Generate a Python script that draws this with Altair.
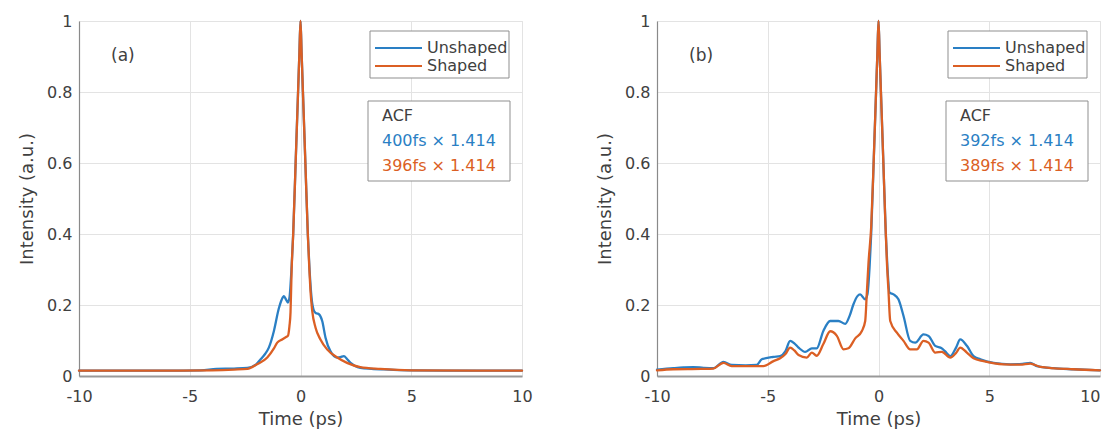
import altair as alt
import pandas as pd

FONT = "DejaVu Sans"
BLUE = "#2a7fc4"
ORANGE = "#db5f24"
TXT = "#404040"

# ---------------- Panel (a) ----------------
a_unshaped_t = [-10, -8, -6, -4.5, -3.8, -3.0, -2.4, -2.0, -1.8, -1.6, -1.43, -1.2, -0.98, -0.85,
                -0.75, -0.65, -0.57, -0.5, -0.4, -0.33, -0.22, -0.11, -0.05, 0, 0.05, 0.11, 0.22,
                0.33, 0.4, 0.5, 0.6, 0.68, 0.75, 0.83, 0.98, 1.13, 1.35, 1.66, 1.8, 1.96, 2.1,
                2.26, 2.7, 3.2, 4.0, 5, 7, 10]
a_unshaped_i = [0.015, 0.015, 0.015, 0.016, 0.02, 0.021, 0.023, 0.033, 0.047, 0.062, 0.08, 0.127,
                0.19, 0.215, 0.225, 0.215, 0.207, 0.22, 0.31, 0.4, 0.6, 0.8, 0.91, 1.0, 0.91, 0.8,
                0.6, 0.4, 0.31, 0.22, 0.185, 0.178, 0.176, 0.174, 0.155, 0.108, 0.07, 0.052, 0.053,
                0.056, 0.048, 0.037, 0.023, 0.02, 0.018, 0.016, 0.015, 0.015]
a_shaped_t = [-10, -6, -4, -3, -2.4, -1.96, -1.5, -1.2, -1.05, -0.83, -0.65, -0.57, -0.5, -0.45,
              -0.4, -0.33, -0.22, -0.11, -0.05, 0, 0.05, 0.11, 0.22, 0.33, 0.4, 0.45, 0.53, 0.68,
              0.9, 1.2, 1.66, 2.1, 2.7, 3.6, 5, 10]
a_shaped_i = [0.015, 0.015, 0.016, 0.018, 0.02, 0.033, 0.052, 0.078, 0.094, 0.103, 0.11, 0.113,
              0.14, 0.18, 0.3, 0.4, 0.6, 0.8, 0.91, 1.0, 0.91, 0.8, 0.6, 0.4, 0.3, 0.24, 0.183,
              0.136, 0.103, 0.075, 0.052, 0.037, 0.025, 0.02, 0.016, 0.015]

# ---------------- Panel (b) ----------------
b_unshaped_t = [-10, -9.26, -8.8, -8.36, -7.9, -7.46, -7.0, -6.63, -6.0, -5.5, -5.27, -4.74, -4.44,
                -4.2, -3.99, -3.8, -3.61, -3.31, -3.01, -2.79, -2.49, -2.18, -1.81, -1.5, -1.3,
                -1.13, -0.95, -0.83, -0.6, -0.5, -0.4, -0.33, -0.22, -0.11, -0.05, 0, 0.05, 0.11,
                0.22, 0.33, 0.4, 0.5, 0.68, 0.9, 1.13, 1.43, 1.66, 2.03, 2.26, 2.56, 2.86, 3.0,
                3.24, 3.5, 3.69, 3.99, 4.29, 4.6, 5.2, 5.95, 6.5, 6.85, 7.15, 7.9, 8.8, 10]
b_unshaped_i = [0.018, 0.022, 0.024, 0.025, 0.023, 0.022, 0.04, 0.031, 0.03, 0.031, 0.047, 0.054,
                0.056, 0.07, 0.099, 0.092, 0.08, 0.068, 0.078, 0.078, 0.127, 0.155, 0.155, 0.147,
                0.17, 0.202, 0.225, 0.23, 0.216, 0.23, 0.31, 0.4, 0.6, 0.8, 0.91, 1.0, 0.91, 0.8,
                0.6, 0.4, 0.31, 0.235, 0.23, 0.216, 0.169, 0.099, 0.094, 0.117, 0.113, 0.085,
                0.078, 0.07, 0.056, 0.08, 0.103, 0.085, 0.056, 0.047, 0.037, 0.033, 0.034, 0.037,
                0.028, 0.022, 0.019, 0.016]
b_shaped_t = [-10, -9.26, -8, -7.46, -7.0, -6.63, -6.0, -5.2, -4.74, -4.44, -4.2, -3.99, -3.8,
              -3.61, -3.24, -3.01, -2.79, -2.49, -2.18, -1.88, -1.58, -1.36, -1.05, -0.75, -0.6,
              -0.53, -0.45, -0.33, -0.22, -0.11, -0.05, 0, 0.05, 0.11, 0.22, 0.3, 0.38, 0.45,
              0.53, 0.83, 1.13, 1.43, 1.73, 2.03, 2.26, 2.56, 2.86, 3.24, 3.5, 3.69, 3.99, 4.29,
              4.74, 5.65, 6.4, 6.85, 7.3, 8.8, 10]
b_shaped_i = [0.016, 0.019, 0.02, 0.021, 0.037, 0.028, 0.028, 0.028, 0.042, 0.05, 0.062, 0.08,
              0.072, 0.059, 0.052, 0.066, 0.057, 0.09, 0.126, 0.113, 0.075, 0.078, 0.106, 0.127,
              0.155, 0.23, 0.32, 0.42, 0.6, 0.8, 0.91, 1.0, 0.91, 0.8, 0.6, 0.45, 0.32, 0.24,
              0.155, 0.122, 0.099, 0.075, 0.075, 0.099, 0.094, 0.066, 0.068, 0.052, 0.065, 0.08,
              0.066, 0.05, 0.042, 0.033, 0.032, 0.035, 0.026, 0.019, 0.016]

series_names = ["Unshaped", "Shaped"]
series_colors = [BLUE, ORANGE]
x_ticks = [-10, -5, 0, 5, 10]
y_ticks = [0, 0.2, 0.4, 0.6, 0.8, 1]

W, H = 443, 355


def frame(t_u, i_u, t_s, i_s):
    d1 = pd.DataFrame({"t": t_u, "I": i_u, "series": "Unshaped", "ord": range(len(t_u))})
    d2 = pd.DataFrame({"t": t_s, "I": i_s, "series": "Shaped", "ord": range(len(t_s))})
    return pd.concat([d1, d2], ignore_index=True)


def panel(df, tag, acf_u, acf_s, last_label_right=False):
    x_axis_kw = dict(title="Time (ps)", values=x_ticks, labelExpr="'' + datum.value",
                     labelFlush=False, labelPadding=12, titlePadding=6,
                     domainWidth=2, domainColor="#999999", grid=True)
    if last_label_right:
        x_axis_kw["labelAlign"] = alt.condition("datum.value == 10", alt.value("right"),
                                                alt.value("center"))
    lines = alt.Chart(df).mark_line(strokeWidth=2.3, strokeJoin="round", strokeCap="round",
                                    interpolate="monotone").encode(
        x=alt.X("t:Q", scale=alt.Scale(domain=[-10, 10], nice=False),
                axis=alt.Axis(**x_axis_kw)),
        y=alt.Y("I:Q", scale=alt.Scale(domain=[0, 1], nice=False),
                axis=alt.Axis(title="Intensity (a.u.)", values=y_ticks, format=".1~f",
                              labelPadding=7, titlePadding=10, domainWidth=1.2, grid=True)),
        color=alt.Color("series:N", scale=alt.Scale(domain=series_names, range=series_colors),
                        legend=None),
        detail="series:N",
        order="ord:Q",
    )
    dummy = pd.DataFrame({"k": [0]})
    base = alt.Chart(dummy)
    box1 = base.mark_rect(fill="white", stroke="#8f8f8f", strokeWidth=1).encode(
        x=alt.value(291), x2=alt.value(430), y=alt.value(10), y2=alt.value(57))
    l1 = base.mark_rule(color=BLUE, strokeWidth=2).encode(
        x=alt.value(296), x2=alt.value(343), y=alt.value(27))
    l2 = base.mark_rule(color=ORANGE, strokeWidth=2).encode(
        x=alt.value(296), x2=alt.value(343), y=alt.value(45))
    t1 = base.mark_text(align="left", baseline="middle", font=FONT, fontSize=16, color=TXT).encode(
        x=alt.value(348), y=alt.value(27), text=alt.value("Unshaped"))
    t2 = base.mark_text(align="left", baseline="middle", font=FONT, fontSize=16, color=TXT).encode(
        x=alt.value(348), y=alt.value(45), text=alt.value("Shaped"))
    box2 = base.mark_rect(fill="white", stroke="#8f8f8f", strokeWidth=1).encode(
        x=alt.value(289), x2=alt.value(431), y=alt.value(80), y2=alt.value(160))
    a1 = base.mark_text(align="left", baseline="middle", font=FONT, fontSize=16, color=TXT).encode(
        x=alt.value(303), y=alt.value(95), text=alt.value("ACF"))
    a2 = base.mark_text(align="left", baseline="middle", font=FONT, fontSize=16, color=BLUE).encode(
        x=alt.value(303), y=alt.value(120), text=alt.value(acf_u))
    a3 = base.mark_text(align="left", baseline="middle", font=FONT, fontSize=16, color=ORANGE).encode(
        x=alt.value(303), y=alt.value(145), text=alt.value(acf_s))
    lab = base.mark_text(align="left", baseline="middle", font=FONT, fontSize=17, color=TXT).encode(
        x=alt.value(32), y=alt.value(35), text=alt.value(tag))
    return alt.layer(lines, box1, l1, l2, t1, t2, box2, a1, a2, a3, lab).properties(width=W, height=H)


left = panel(frame(a_unshaped_t, a_unshaped_i, a_shaped_t, a_shaped_i), "(a)",
             "400fs × 1.414", "396fs × 1.414")
right = panel(frame(b_unshaped_t, b_unshaped_i, b_shaped_t, b_shaped_i), "(b)",
              "392fs × 1.414", "389fs × 1.414", last_label_right=True)

chart = alt.hconcat(left, right, spacing=63).properties(
    padding={"left": 10, "top": 4, "right": 0, "bottom": 0},
    background="white",
).configure_view(stroke="#e3e3e3", strokeWidth=1).configure_axis(
    labelFont=FONT, labelFontSize=16, labelColor=TXT,
    titleFont=FONT, titleFontSize=18, titleFontWeight="normal", titleColor=TXT,
    gridColor="#e3e3e3", gridWidth=1, domainColor="#8a8a8a", ticks=False,
)

chart.save("out.html", embed_options={"renderer": "svg", "actions": False})
